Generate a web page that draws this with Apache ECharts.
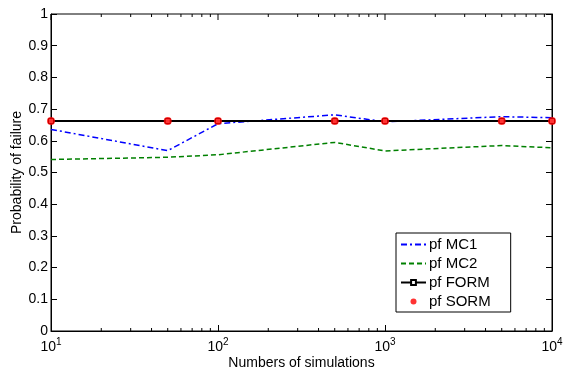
<!DOCTYPE html>
<html>
<head>
<meta charset="utf-8">
<script src="https://cdn.jsdelivr.net/npm/echarts@6/dist/echarts.min.js"></script>
<style>
  html, body { margin: 0; padding: 0; background: #fff; }
  #chart { width: 567px; height: 374px; }
</style>
</head>
<body>
<div id="chart"></div>
<script>
// simulation counts (x, log scale)
const sims = [10, 50, 100, 500, 1000, 5000, 10000]
// probability of failure per method
const pfMC1 = [0.636, 0.569, 0.654, 0.682, 0.660, 0.676, 0.673]
const pfMC2 = [0.541, 0.548, 0.556, 0.595, 0.568, 0.585, 0.578]
const pfFORM = [0.6625, 0.6625, 0.6625, 0.6625, 0.6625, 0.6625, 0.6625]
const pfSORM = [0.6625, 0.6625, 0.6625, 0.6625, 0.6625, 0.6625, 0.6625]
const majorTicks = [10, 100, 1000, 10000]

// minor log ticks 2..9 in each decade
const minorTicks = []
for (let d = 10; d < 10000; d *= 10) {
  for (let k = 2; k <= 9; k++) minorTicks.push(k * d)
}

const pairs = ys => sims.map((x, i) => [x, ys[i]])
const font = 'Liberation Sans, Arial, sans-serif'

const chart = echarts.init(document.getElementById('chart'))

chart.setOption({
  animation: false,
  grid: {
    left: 51, right: 15, top: 14, bottom: 43,
    outerBoundsMode: 'none',
    containLabel: false,
    show: true,
    borderColor: '#000',
    borderWidth: 1
  },
  legend: {
    data: [
      // hide the marker on the dashed entries, keep the line only
      { name: 'pf MC1', itemStyle: { opacity: 0 } },
      { name: 'pf MC2', itemStyle: { opacity: 0 } },
      { name: 'pf FORM' },
      { name: 'pf SORM' }
    ],
    orient: 'vertical',
    left: 396,
    top: 233,
    padding: [4, 20, 3, 4],
    itemGap: 4,
    itemWidth: 25,
    itemHeight: 6,
    backgroundColor: '#fff',
    borderColor: '#000',
    borderWidth: 1,
    textStyle: { fontFamily: font, fontSize: 15, color: '#000', padding: [1, 0, 0, -2] }
  },
  xAxis: {
    type: 'log',
    logBase: 10,
    min: 10,
    max: 10000,
    splitNumber: 3,
    name: 'Numbers of simulations',
    nameLocation: 'middle',
    nameGap: 25,
    nameMoveOverlap: false,
    nameTextStyle: { fontFamily: font, fontSize: 14, color: '#000' },
    axisLine: { lineStyle: { color: '#000', width: 1 } },
    axisTick: { inside: true, length: 6, lineStyle: { color: '#000' } },
    splitLine: { show: false },
    axisLabel: {
      margin: 6,
      fontFamily: font,
      fontSize: 14,
      color: '#000',
      formatter: v => '10{sup|' + Math.round(Math.log10(v)) + '}',
      rich: {
        sup: { fontFamily: font, fontSize: 10, color: '#000', verticalAlign: 'bottom', padding: [0, 0, 10, 0] }
      }
    }
  },
  yAxis: [{
    type: 'value',
    min: 0,
    max: 1,
    interval: 0.1,
    name: 'Probability of failure',
    nameLocation: 'middle',
    nameGap: 27,
    nameMoveOverlap: false,
    nameTextStyle: { fontFamily: font, fontSize: 14, color: '#000' },
    axisLine: { show: true, lineStyle: { color: '#000', width: 1 } },
    axisTick: { show: true, inside: true, length: 6, lineStyle: { color: '#000' } },
    splitLine: { show: false },
    axisLabel: { margin: 3, fontFamily: font, fontSize: 14, color: '#000' }
  }, {
    type: 'value',
    min: 0,
    max: 1,
    interval: 0.1,
    position: 'right',
    axisLine: { show: true, lineStyle: { color: '#000', width: 1 } },
    axisTick: { show: true, inside: true, length: 6, lineStyle: { color: '#000' } },
    axisLabel: { show: false },
    splitLine: { show: false }
  }],
  series: [{
    name: 'pf MC1',
    type: 'line',
    data: pairs(pfMC1),
    symbol: 'none',
    color: '#0000ff',
    lineStyle: { color: '#0000ff', width: 1.5, type: [6, 3, 2, 3] }
  }, {
    name: 'pf MC2',
    type: 'line',
    data: pairs(pfMC2),
    symbol: 'none',
    color: '#008000',
    lineStyle: { color: '#008000', width: 1.5, type: [5, 3] }
  }, {
    name: 'pf FORM',
    type: 'line',
    data: pairs(pfFORM),
    symbol: 'rect',
    symbolSize: 5,
    color: '#000',
    itemStyle: { color: '#fff', borderColor: '#000', borderWidth: 1 },
    lineStyle: { color: '#000', width: 2 }
  }, {
    name: 'pf SORM',
    type: 'scatter',
    data: pairs(pfSORM),
    symbol: 'circle',
    symbolSize: 8,
    itemStyle: { color: '#ff0000' },
    z: 5
  }, {
    // log ticks: minor along bottom, major + minor along top
    type: 'custom',
    silent: true,
    clip: false,
    data: majorTicks.map(v => [v, 6, 0]).concat(minorTicks.map(v => [v, 3, 1])),
    renderItem: (params, api) => {
      const len = api.value(1)
      const isMinor = api.value(2)
      const p0 = api.coord([api.value(0), 0])
      const p1 = api.coord([api.value(0), 1])
      const style = { stroke: '#000', lineWidth: 1 }
      const children = [
        { type: 'line', shape: { x1: p1[0], y1: p1[1], x2: p1[0], y2: p1[1] + len }, style: style }
      ]
      if (isMinor) {
        children.push({ type: 'line', shape: { x1: p0[0], y1: p0[1], x2: p0[0], y2: p0[1] - len }, style: style })
      }
      return { type: 'group', children: children }
    }
  }]
})
</script>
</body>
</html>
